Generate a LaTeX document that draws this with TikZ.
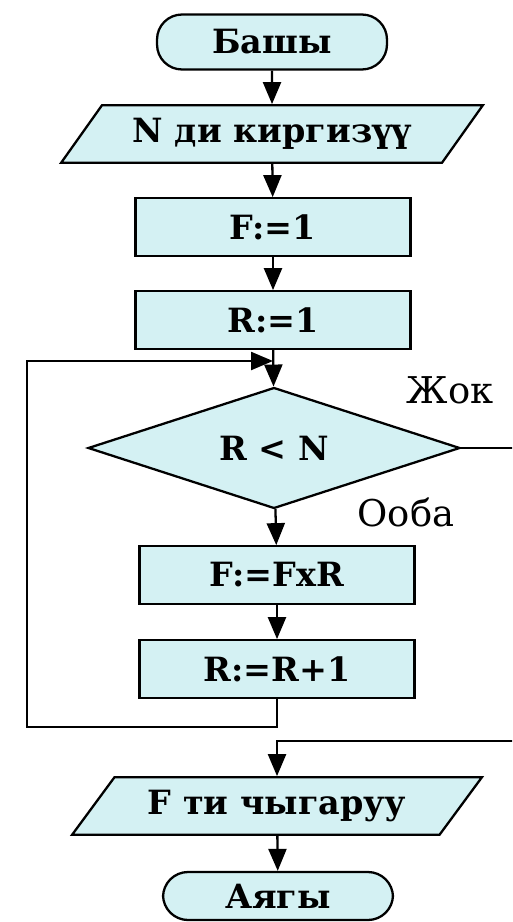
\documentclass[tikz,border=0pt]{standalone}
\usepackage{fontspec}
\setmainfont{DejaVu Serif}
\usetikzlibrary{arrows.meta,shapes.geometric}
\definecolor{boxfill}{RGB}{212,241,243}

\begin{document}
\begin{tikzpicture}[x=0.02cm, y=-0.02cm, line width=1.3pt, >={Triangle[length=0.44cm,width=0.36cm]},
    every node/.style={font=\fontsize{19}{21}\selectfont\bfseries},
    term/.style={draw, fill=boxfill, rectangle, rounded corners=0.5cm, minimum width=4.6cm, minimum height=1.1cm},
    io/.style={draw, fill=boxfill, trapezium, trapezium left angle=51, trapezium right angle=129, trapezium stretches=true, minimum height=1.15cm},
    proc/.style={draw, fill=boxfill, rectangle, minimum width=5.5cm, minimum height=1.15cm},
    test/.style={draw, fill=boxfill, diamond, aspect=3, minimum width=7.44cm, minimum height=2.42cm, inner sep=0pt},
    lbl/.style={font=\fontsize{21}{24}\selectfont}]
    \useasboundingbox (0,0) rectangle (512,922);
    \clip (0,0) rectangle (512,922);
    \node[term] (start) at (272,42) {Башы};
    \node[io, minimum width=8.44cm] (inp) at (272,134) {N ди киргизүү};
    \node[proc] (f1) at (273,227) {F:=1};
    \node[proc] (r1) at (273,320) {R:=1};
    \node[test] (test) at (274,448) {R < N};
    \node[proc] (fmul) at (277,575) {F:=FxR};
    \node[proc] (rinc) at (277,669) {R:=R+1};
    \node[io, minimum width=8.2cm] (out) at (277,806) {F ти чыгаруу};
    \node[term, minimum height=0.96cm] (stop) at (278,896) {Аягы};
    \node[lbl] (no) at (450,390) {Жок};
    \node[lbl] (yes) at (406,512) {Ооба};
    \coordinate (join) at (273,361);
    \coordinate (loopbot) at (27,727);
    \coordinate (nobot) at (525,741);
    \draw[->] (start) -- (inp);
    \draw[->] (inp) -- (f1);
    \draw[->] (f1) -- (r1);
    \draw[->] (r1) -- (test);
    \draw[->] (test) -- (fmul);
    \draw[->] (fmul) -- (rinc);
    \draw[->] (rinc.south) |- (loopbot) |- (join);
    \draw[->] (test.east) -| (nobot) -| (out.north);
    \draw[->] (out) -- (stop);
\end{tikzpicture}
\end{document}
